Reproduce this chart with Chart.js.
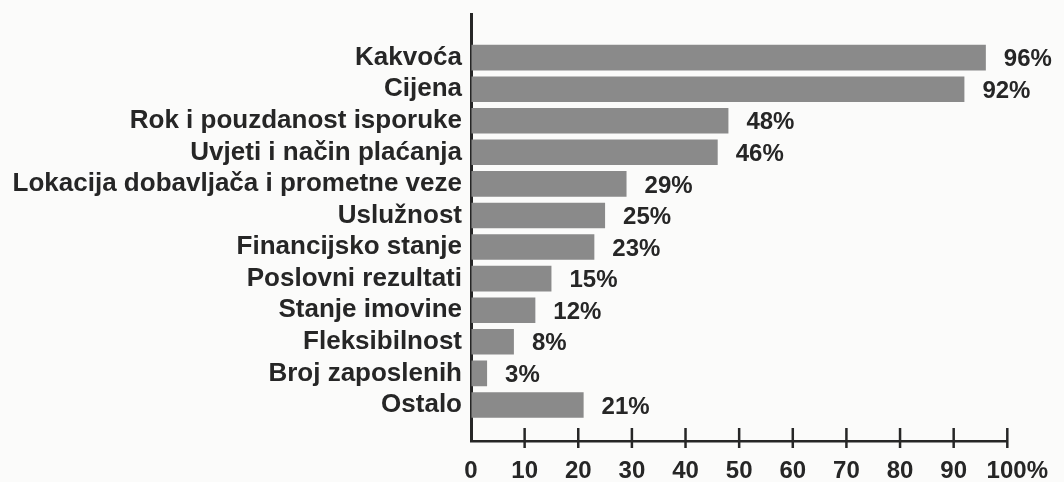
<!DOCTYPE html>
<html>
<head>
<meta charset="utf-8">
<script src="https://cdn.jsdelivr.net/npm/chart.js@4.4.1/dist/chart.umd.min.js"></script>
<style>
  html, body { margin: 0; padding: 0; background: #fbfbfa; }
  #wrap { width: 1064px; height: 482px; position: relative; }
</style>
</head>
<body>
<div id="wrap"><canvas id="ch-bars"></canvas></div>
<script>
// categories, top to bottom
const categories = [
  "Kakvoća",
  "Cijena",
  "Rok i pouzdanost isporuke",
  "Uvjeti i način plaćanja",
  "Lokacija dobavljača i prometne veze",
  "Uslužnost",
  "Financijsko stanje",
  "Poslovni rezultati",
  "Stanje imovine",
  "Fleksibilnost",
  "Broj zaposlenih",
  "Ostalo"
];
const shares = [96, 92, 48, 46, 29, 25, 23, 15, 12, 8, 3, 21];
const xTicks = [0, 10, 20, 30, 40, 50, 60, 70, 80, 90, 100];

const INK = "#262626";
const FONT = "'Liberation Sans', Arial, sans-serif";

// percentage labels right of each bar
const valueLabels = {
  id: "valueLabels",
  afterDatasetsDraw(chart) {
    const ctx = chart.ctx;
    const meta = chart.getDatasetMeta(0);
    ctx.save();
    ctx.font = "bold 24px " + FONT;
    ctx.fillStyle = INK;
    ctx.textAlign = "left";
    ctx.textBaseline = "middle";
    meta.data.forEach((bar, i) => {
      ctx.fillText(shares[i] + "%", bar.x + 18, bar.y + 2);
    });
    ctx.restore();
  }
};

// tick marks that cross the x axis line
const crossTicks = {
  id: "crossTicks",
  afterDraw(chart) {
    const ctx = chart.ctx;
    const xs = chart.scales.x;
    const yb = chart.chartArea.bottom;
    ctx.save();
    ctx.strokeStyle = INK;
    ctx.lineWidth = 2.5;
    xTicks.forEach(v => {
      if (v === 0) return;
      const px = xs.getPixelForValue(v);
      ctx.beginPath();
      ctx.moveTo(px, yb - 13);
      ctx.lineTo(px, yb + 7);
      ctx.stroke();
    });
    ctx.restore();
  }
};

new Chart(document.getElementById("ch-bars"), {
  type: "bar",
  data: {
    datasets: [{
      data: shares.map((v, i) => ({ x: v, y: i })),
      backgroundColor: "#8a8a8a",
      borderWidth: 0,
      barPercentage: 0.81,
      categoryPercentage: 1
    }]
  },
  options: {
    indexAxis: "y",
    responsive: true,
    maintainAspectRatio: false,
    animation: false,
    layout: { padding: { top: 14, right: 49, left: 0, bottom: 0 } },
    plugins: { legend: { display: false }, tooltip: { enabled: false } },
    scales: {
      x: {
        type: "linear",
        min: 0,
        max: 100,
        afterFit: s => { s.height = 41; },
        afterBuildTicks: s => { s.ticks = xTicks.map(v => ({ value: v })); },
        grid: { drawOnChartArea: false, drawTicks: false },
        border: { display: true, color: INK, width: 2.5 },
        ticks: {
          padding: 16,
          maxRotation: 0,
          autoSkip: false,
          color: INK,
          font: { family: FONT, size: 24, weight: "bold" },
          callback: v => v === 100 ? "   100%" : String(v)
        }
      },
      y: {
        type: "linear",
        reverse: true,
        offset: false,
        min: -1.38,
        max: 12.14,
        afterFit: s => { s.width = 471; s.paddingTop = 0; s.paddingBottom = 0; },
        afterBuildTicks: s => { s.ticks = categories.map((c, i) => ({ value: i })); },
        grid: { drawOnChartArea: false, drawTicks: false, offset: false },
        border: { display: true, color: INK, width: 3 },
        ticks: {
          padding: 9,
          autoSkip: false,
          color: INK,
          font: { family: FONT, size: 26, weight: "bold" },
          callback: v => categories[v] ?? ""
        }
      }
    }
  },
  plugins: [valueLabels, crossTicks]
});
</script>
</body>
</html>
